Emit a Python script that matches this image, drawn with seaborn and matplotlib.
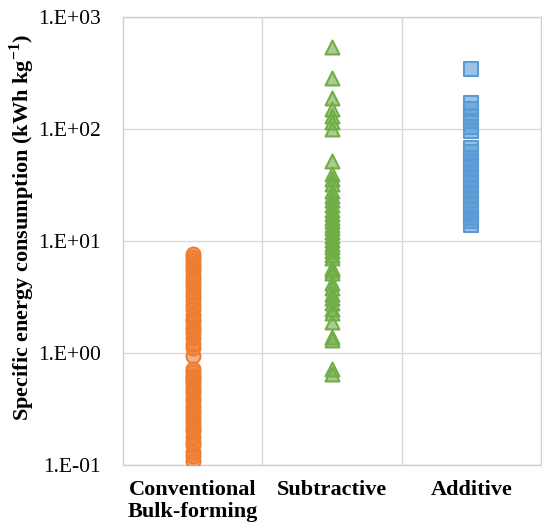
"""
Specific energy consumption by manufacturing process category
"""

import numpy as np
import pandas as pd
import matplotlib
matplotlib.use("Agg")
import matplotlib.pyplot as plt
import matplotlib.ticker as mticker
from matplotlib.colors import to_rgba
import seaborn as sns

# Categorías (eje x)
CATEGORIES = ["Conventional\nBulk-forming", "Subtractive", "Additive"]

# Valores (kWh/kg)
conventional = [7.6, 7.2, 6.8, 6.3, 5.9, 5.5, 5.0, 4.6, 4.2, 3.9, 3.5, 3.2, 3.0,
                2.7, 2.5, 2.2, 2.0, 1.9, 1.7, 1.6, 1.5, 1.35, 1.2, 1.1, 0.95,
                0.72, 0.68, 0.63, 0.6, 0.57, 0.54, 0.5, 0.47, 0.44, 0.4, 0.37,
                0.34, 0.31, 0.29, 0.27, 0.25, 0.23, 0.21, 0.2, 0.18, 0.16,
                0.15, 0.13, 0.12, 0.11]
subtractive = [540, 285, 190, 150, 130, 115, 100, 52, 40, 36, 32, 28, 25, 23,
               21, 19, 17.5, 16, 15, 14, 13, 12, 11, 10.2, 9.5, 8.8, 8.2, 7.5,
               7.0, 5.8, 5.5, 5.2, 4.2, 3.8, 3.4, 3.1, 2.8, 2.5, 2.3, 1.9, 1.4,
               1.3, 0.72, 0.65]
additive = [340, 170, 150, 130, 118, 105, 95, 68, 62, 55, 50, 45, 40, 36, 32,
            29, 26, 23, 21, 19, 17.5, 16, 15, 14]

COLORS = ["#ED7D31", "#70AD47", "#5B9BD5"]
MARKERS = ["o", "^", "s"]

df = pd.DataFrame({
    "category": [CATEGORIES[0]] * len(conventional)
                + [CATEGORIES[1]] * len(subtractive)
                + [CATEGORIES[2]] * len(additive),
    "sec": conventional + subtractive + additive,
})

fig = plt.figure(figsize=(5.42, 5.28), dpi=100)
ax = fig.add_axes([0.227, 0.119, 0.771, 0.849])

# Un stripplot por categoría para cambiar el marcador
for cat, color, marker in zip(CATEGORIES, COLORS, MARKERS):
    sub = df[df["category"] == cat]
    sns.stripplot(data=sub, x="category", y="sec", order=CATEGORIES,
                  jitter=False, marker=marker, size=10,
                  color=to_rgba(color, 0.6), edgecolor=color, linewidth=1.5,
                  ax=ax, zorder=3)

ax.set_yscale("log")
ax.set_ylim(0.1, 1000)
ax.set_xlim(-0.5, 2.5)

# Formato de etiquetas estilo Excel: 1.E+03
ax.yaxis.set_major_locator(mticker.LogLocator(base=10, numticks=10))
ax.yaxis.set_minor_locator(mticker.NullLocator())
ax.yaxis.set_major_formatter(mticker.FuncFormatter(
    lambda v, pos: f"1.E{int(round(np.log10(v))):+03d}"))

# Rejilla
ax.grid(axis="y", color="#d9d9d9", linewidth=1, zorder=0)
for xv in [0.5, 1.5]:
    ax.axvline(xv, color="#d9d9d9", linewidth=1, zorder=0)
ax.set_axisbelow(True)

for spine in ax.spines.values():
    spine.set_color("#d0d0d0")
    spine.set_linewidth(1)

ax.tick_params(axis="both", length=0)
ax.tick_params(axis="y", pad=16)
ax.tick_params(axis="x", pad=11)

for lbl in ax.get_yticklabels():
    lbl.set_fontfamily("Liberation Serif")
    lbl.set_fontsize(15.5)
ax.set_xticks(range(len(CATEGORIES)))
ax.set_xticklabels(CATEGORIES, fontfamily="Liberation Serif", fontsize=16,
                   fontweight="bold", linespacing=1.1)

ax.set_xlabel("")
ax.set_ylabel("Specific energy consumption (kWh kg$^{\\mathregular{-1}}$)",
              fontfamily="Liberation Serif", fontsize=16, fontweight="bold")
ax.yaxis.set_label_coords(-0.205, 0.53)

plt.savefig("out.png", dpi=100)
plt.close()
